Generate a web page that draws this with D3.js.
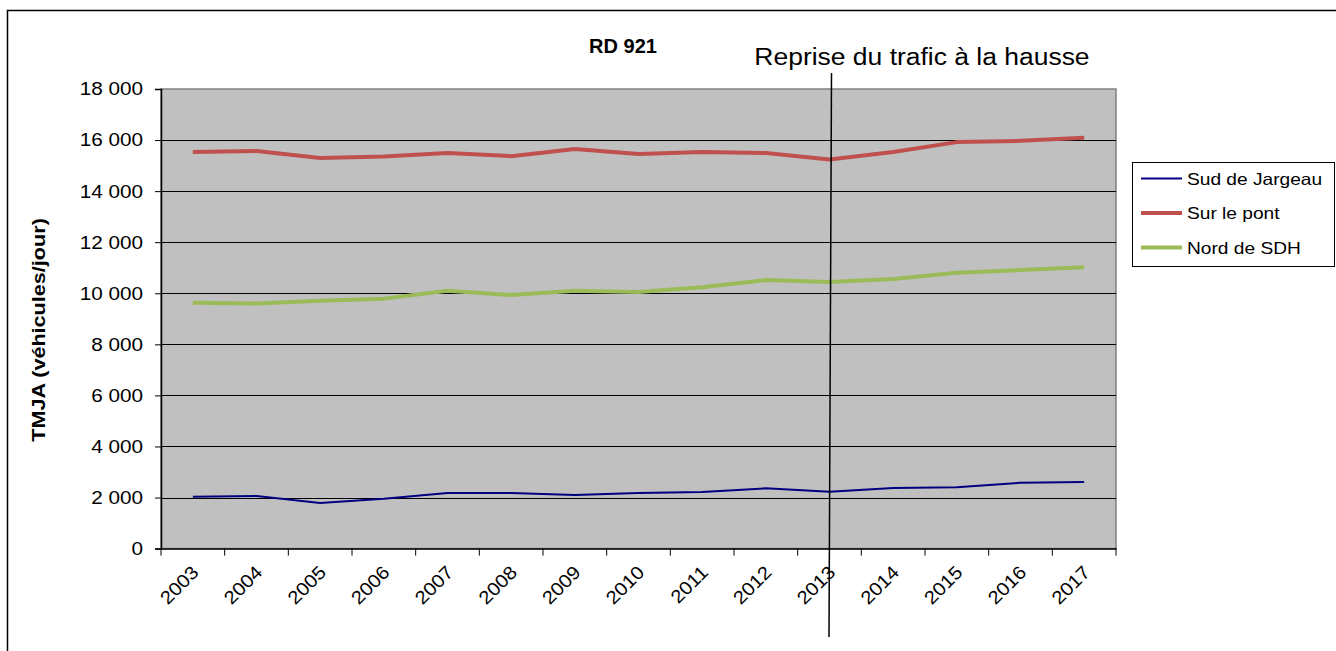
<!DOCTYPE html>
<html>
<head>
<meta charset="utf-8">
<script src="https://cdn.jsdelivr.net/npm/d3@7"></script>
<style>
  body { margin: 0; background: #fff; }
  svg { display: block; font-family: "Liberation Sans", Arial, sans-serif; }
</style>
</head>
<body>
<svg id="chart" width="1336" height="651"></svg>
<script>
// Data
var years = ['2003', '2004', '2005', '2006', '2007', '2008', '2009', '2010',
             '2011', '2012', '2013', '2014', '2015', '2016', '2017'];
var sudJargeau = [2030, 2060, 1790, 1950, 2180, 2180, 2100, 2180, 2220, 2360, 2230, 2370, 2400, 2580, 2610];
var surLePont = [15530, 15570, 15300, 15360, 15490, 15370, 15650, 15450, 15530, 15490, 15240, 15530, 15920, 15970, 16090];
var nordSDH = [9630, 9600, 9710, 9790, 10100, 9930, 10100, 10050, 10240, 10520, 10440, 10560, 10800, 10910, 11020];
var yTicks = [0, 2000, 4000, 6000, 8000, 10000, 12000, 14000, 16000, 18000];
var markerYear = '2013';

var series = [
  { name: 'Sud de Jargeau', values: sudJargeau, color: '#000080', width: 2 },
  { name: 'Sur le pont', values: surLePont, color: '#C0504D', width: 4 },
  { name: 'Nord de SDH', values: nordSDH, color: '#9BBB59', width: 4 }
];

// the source font runs a little wider than Liberation Sans
function stretch(sel, factor) {
  sel.each(function () {
    var w = this.getComputedTextLength();
    d3.select(this)
      .attr('textLength', w * factor)
      .attr('lengthAdjust', 'spacingAndGlyphs');
  });
}

var svg = d3.select('#chart');

// Outer frame
svg.append('rect')
   .attr('x', 7.5).attr('y', 10.5)
   .attr('width', 1340).attr('height', 660)
   .attr('fill', 'none').attr('stroke', '#000').attr('stroke-width', 1.5);

var plotLeft = 161, plotTop = 89, plotRight = 1116, plotBottom = 548.6;

var x = d3.scaleBand().domain(years).range([plotLeft, plotRight]);
var y = d3.scaleLinear().domain([0, 18000]).range([plotBottom, plotTop]);
var fmt = function (d) { return d3.format(',')(d).replace(/,/g, ' '); };

// Plot background
svg.append('rect')
   .attr('x', plotLeft).attr('y', plotTop)
   .attr('width', plotRight - plotLeft).attr('height', plotBottom - plotTop)
   .attr('fill', '#C0C0C0').attr('stroke', '#808080').attr('stroke-width', 1.5);

// Grid lines
svg.selectAll('.grid')
   .data(yTicks.slice(1, -1))
   .enter()
   .append('line')
   .attr('class', 'grid')
   .attr('x1', plotLeft).attr('x2', plotRight)
   .attr('y1', function (d) { return Math.round(y(d)) + 0.5; })
   .attr('y2', function (d) { return Math.round(y(d)) + 0.5; })
   .attr('stroke', '#000').attr('stroke-width', 1);

// Y axis
var yAxis = svg.append('g')
   .attr('transform', 'translate(' + plotLeft + ',0)')
   .call(d3.axisLeft(y).tickValues(yTicks).tickFormat(fmt).tickSize(6).tickPadding(12));
yAxis.select('.domain').attr('stroke', '#000').attr('stroke-width', 1.5);
yAxis.selectAll('.tick line').attr('stroke', '#000');
yAxis.selectAll('text').attr('font-size', 18.5).attr('fill', '#000')
     .attr('font-family', '"Liberation Sans", Arial, sans-serif')
     .call(stretch, 1.12);

// X axis
var xAxis = svg.append('g')
   .attr('transform', 'translate(0,' + plotBottom + ')')
   .call(d3.axisBottom(x).tickSize(0).tickPadding(0));
xAxis.select('.domain').attr('stroke', '#000').attr('stroke-width', 1.5);
xAxis.selectAll('.xtick')
   .data(d3.range(years.length + 1))
   .enter()
   .append('line')
   .attr('x1', function (d) { return plotLeft + d * x.step(); })
   .attr('x2', function (d) { return plotLeft + d * x.step(); })
   .attr('y1', 0).attr('y2', 7)
   .attr('stroke', '#000');
xAxis.selectAll('.tick text')
   .attr('font-size', 18.5).attr('fill', '#000')
   .attr('font-family', '"Liberation Sans", Arial, sans-serif')
   .attr('text-anchor', 'end')
   .attr('dy', 0)
   .attr('y', 0)
   .attr('transform', 'translate(7,25) rotate(-45)')
   .call(stretch, 1.1);

// Lines
var line = d3.line()
   .x(function (d, i) { return x(years[i]) + x.bandwidth() / 2; })
   .y(function (d) { return y(d); });

series.forEach(function (s) {
  svg.append('path')
     .attr('d', line(s.values))
     .attr('fill', 'none')
     .attr('stroke', s.color)
     .attr('stroke-width', s.width)
     .attr('stroke-linejoin', 'round');
});

// Marker line
var mx = x(markerYear) + x.bandwidth() / 2;
svg.append('line')
   .attr('x1', mx + 2).attr('y1', 73)
   .attr('x2', mx - 0.5).attr('y2', 637)
   .attr('stroke', '#000').attr('stroke-width', 1.5);
svg.append('text')
   .attr('x', 922).attr('y', 65)
   .attr('text-anchor', 'middle')
   .attr('font-size', 23)
   .text('Reprise du trafic à la hausse')
   .call(stretch, 1.15);

// Title
svg.append('text')
   .attr('x', 623).attr('y', 53)
   .attr('text-anchor', 'middle')
   .attr('font-size', 20).attr('font-weight', 'bold')
   .text('RD 921');

// Y axis title
svg.append('text')
   .attr('transform', 'translate(45,330) rotate(-90)')
   .attr('text-anchor', 'middle')
   .attr('font-size', 18).attr('font-weight', 'bold')
   .text('TMJA (véhicules/jour)')
   .call(stretch, 1.2);

// Legend
var lg = svg.append('g').attr('transform', 'translate(1132,162)');
lg.append('rect')
  .attr('x', 0.5).attr('y', 0.5).attr('width', 202).attr('height', 104)
  .attr('fill', '#fff').attr('stroke', '#000');
var item = lg.selectAll('.item')
  .data(series)
  .enter()
  .append('g')
  .attr('transform', function (d, i) { return 'translate(0,' + (16.5 + i * 34.5) + ')'; });
item.append('line')
  .attr('x1', 9).attr('x2', 50).attr('y1', 0).attr('y2', 0)
  .attr('stroke', function (d) { return d.color; })
  .attr('stroke-width', function (d) { return d.width; });
item.append('text')
  .attr('x', 55).attr('y', 6)
  .attr('font-size', 16.5)
  .text(function (d) { return d.name; })
  .call(stretch, 1.16);
</script>
</body>
</html>
